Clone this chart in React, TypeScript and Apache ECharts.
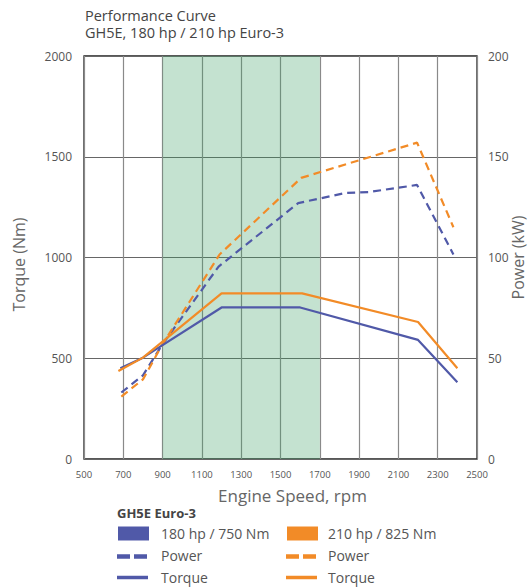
import React, { useEffect, useRef } from "react";
import * as echarts from "echarts";

const titleLines = ["Performance Curve", "GH5E, 180 hp / 210 hp Euro-3"];
const legendTitle = "GH5E Euro-3";
const variantNames = ["180 hp / 750 Nm", "210 hp / 825 Nm"];

// 180 hp / 750 Nm
const rpm180Torque = [685, 800, 1200, 1600, 2200, 2400];
const torque180 = [450, 503, 752, 752, 591, 381];
const rpm180Power = [690, 800, 900, 1185, 1590, 1830, 1950, 2195, 2380];
const power180 = [33, 41.5, 57, 95.5, 127, 132, 132.5, 136, 101.5];

// 210 hp / 825 Nm
const rpm210Torque = [675, 800, 1200, 1610, 2200, 2400];
const torque210 = [437, 503, 822, 822, 680, 450];
const rpm210Power = [690, 800, 900, 1190, 1605, 2195, 2380];
const power210 = [31, 39.5, 57, 101.5, 139.5, 157, 115];

const bandRange = [900, 1700];

const BLUE = "#5059a8";
const ORANGE = "#f28b27";
const FONT = '"Open Sans", "Noto Sans", sans-serif';

const pairs = (xs: number[], ys: number[]) => xs.map((x, i) => [x, ys[i]]);
const plain = (v: number) => String(v);

export default function App() {
  const ref = useRef<HTMLDivElement>(null);
  useEffect(() => {
    if (!ref.current) return;
    const chart = echarts.init(ref.current, undefined, { renderer: "svg" });
    const lineStyleSolid = (c: string) => ({ color: c, width: 2.2, type: "solid" as const });
    const lineStyleDash = (c: string) => ({ color: c, width: 2.2, type: [8, 5] as any });
    chart.setOption({
      animation: false,
      backgroundColor: "#fff",
      grid: {
        left: 84,
        right: 53,
        top: 56,
        bottom: 129,
        containLabel: false,
        outerBoundsMode: "none",
        show: true,
        backgroundColor: "#fff",
        borderColor: "#222",
        borderWidth: 1.3,
      },
      xAxis: {
        type: "value",
        min: 500,
        max: 2500,
        interval: 200,
        name: "Engine Speed, rpm",
        nameLocation: "middle",
        nameGap: 28,
        nameTextStyle: { fontFamily: FONT, fontSize: 17, color: "#666", padding: [0, 0, 0, 24] },
        axisLine: { show: false },
        axisTick: { show: false },
        axisLabel: { fontFamily: FONT, fontSize: 9.5, color: "#555", margin: 10, formatter: plain },
        splitLine: { show: true, lineStyle: { color: "#8a8a8a", width: 1.2 } },
      },
      yAxis: [
        {
          type: "value",
          min: 0,
          max: 2000,
          interval: 500,
          name: "Torque (Nm)",
          nameLocation: "middle",
          nameRotate: 90,
          nameGap: 57,
          nameTextStyle: { fontFamily: FONT, fontSize: 16, color: "#666", padding: [0, 14, 0, 0] },
          axisLine: { show: false },
          axisTick: { show: false },
          axisLabel: { fontFamily: FONT, fontSize: 12, color: "#555", margin: 12, formatter: plain },
          splitLine: { show: true, lineStyle: { color: "#666", width: 1.2 } },
        },
        {
          type: "value",
          min: 0,
          max: 200,
          interval: 50,
          name: "Power (kW)",
          nameLocation: "middle",
          nameRotate: 90,
          nameGap: 33,
          nameMoveOverlap: false,
          nameTextStyle: { fontFamily: FONT, fontSize: 16, color: "#666" },
          axisLine: { show: false },
          axisTick: { show: false },
          axisLabel: { fontFamily: FONT, fontSize: 12, color: "#555", margin: 11, formatter: plain },
          splitLine: { show: false },
        },
      ],
      series: [
        {
          name: variantNames[0] + " Power",
          type: "line",
          yAxisIndex: 1,
          data: pairs(rpm180Power, power180),
          showSymbol: false,
          lineStyle: lineStyleDash(BLUE),
          markArea: {
            silent: true,
            itemStyle: { color: "rgba(60,160,100,0.3)" },
            data: [[{ xAxis: bandRange[0] }, { xAxis: bandRange[1] }]],
          },
          z: 3,
        },
        {
          name: variantNames[1] + " Power",
          type: "line",
          yAxisIndex: 1,
          data: pairs(rpm210Power, power210),
          showSymbol: false,
          lineStyle: lineStyleDash(ORANGE),
          z: 3,
        },
        {
          name: variantNames[0] + " Torque",
          type: "line",
          yAxisIndex: 0,
          data: pairs(rpm180Torque, torque180),
          showSymbol: false,
          lineStyle: lineStyleSolid(BLUE),
          z: 4,
        },
        {
          name: variantNames[1] + " Torque",
          type: "line",
          yAxisIndex: 0,
          data: pairs(rpm210Torque, torque210),
          showSymbol: false,
          lineStyle: lineStyleSolid(ORANGE),
          z: 4,
        },
      ],
      graphic: [
        { type: "text", x: 85, y: 15, style: { text: titleLines[0], font: `14.5px ${FONT}`, fill: "#444", verticalAlign: "middle" } },
        { type: "text", x: 85, y: 32.5, style: { text: titleLines[1], font: `14.5px ${FONT}`, fill: "#444", verticalAlign: "middle" } },
        { type: "text", x: 117, y: 513, style: { text: legendTitle, font: `bold 13px ${FONT}`, fill: "#444", verticalAlign: "middle" } },
        // 180 hp
        { type: "rect", shape: { x: 118, y: 526.5, width: 31, height: 14 }, style: { fill: BLUE } },
        { type: "text", x: 161, y: 533, style: { text: variantNames[0], font: `14px ${FONT}`, fill: "#555", verticalAlign: "middle" } },
        { type: "line", shape: { x1: 117, y1: 556.5, x2: 147, y2: 556.5 }, style: { stroke: BLUE, lineWidth: 4.5, lineDash: [13, 4] } },
        { type: "text", x: 161, y: 555, style: { text: "Power", font: `14px ${FONT}`, fill: "#555", verticalAlign: "middle" } },
        { type: "line", shape: { x1: 117, y1: 577.5, x2: 148, y2: 577.5 }, style: { stroke: BLUE, lineWidth: 3.5 } },
        { type: "text", x: 161, y: 577, style: { text: "Torque", font: `14px ${FONT}`, fill: "#555", verticalAlign: "middle" } },
        // 210 hp
        { type: "rect", shape: { x: 287, y: 526.5, width: 31, height: 14 }, style: { fill: ORANGE } },
        { type: "text", x: 328, y: 533, style: { text: variantNames[1], font: `14px ${FONT}`, fill: "#555", verticalAlign: "middle" } },
        { type: "line", shape: { x1: 286, y1: 556.5, x2: 316, y2: 556.5 }, style: { stroke: ORANGE, lineWidth: 4.5, lineDash: [13, 4] } },
        { type: "text", x: 328, y: 555, style: { text: "Power", font: `14px ${FONT}`, fill: "#555", verticalAlign: "middle" } },
        { type: "line", shape: { x1: 286, y1: 577.5, x2: 317, y2: 577.5 }, style: { stroke: ORANGE, lineWidth: 3.5 } },
        { type: "text", x: 328, y: 577, style: { text: "Torque", font: `14px ${FONT}`, fill: "#555", verticalAlign: "middle" } },
      ],
    });
    return () => chart.dispose();
  }, []);
  return (
    <div
      ref={ref}
      style={{ position: "absolute", left: 0, top: 0, width: 530, height: 588, background: "#fff" }}
    />
  );
}
